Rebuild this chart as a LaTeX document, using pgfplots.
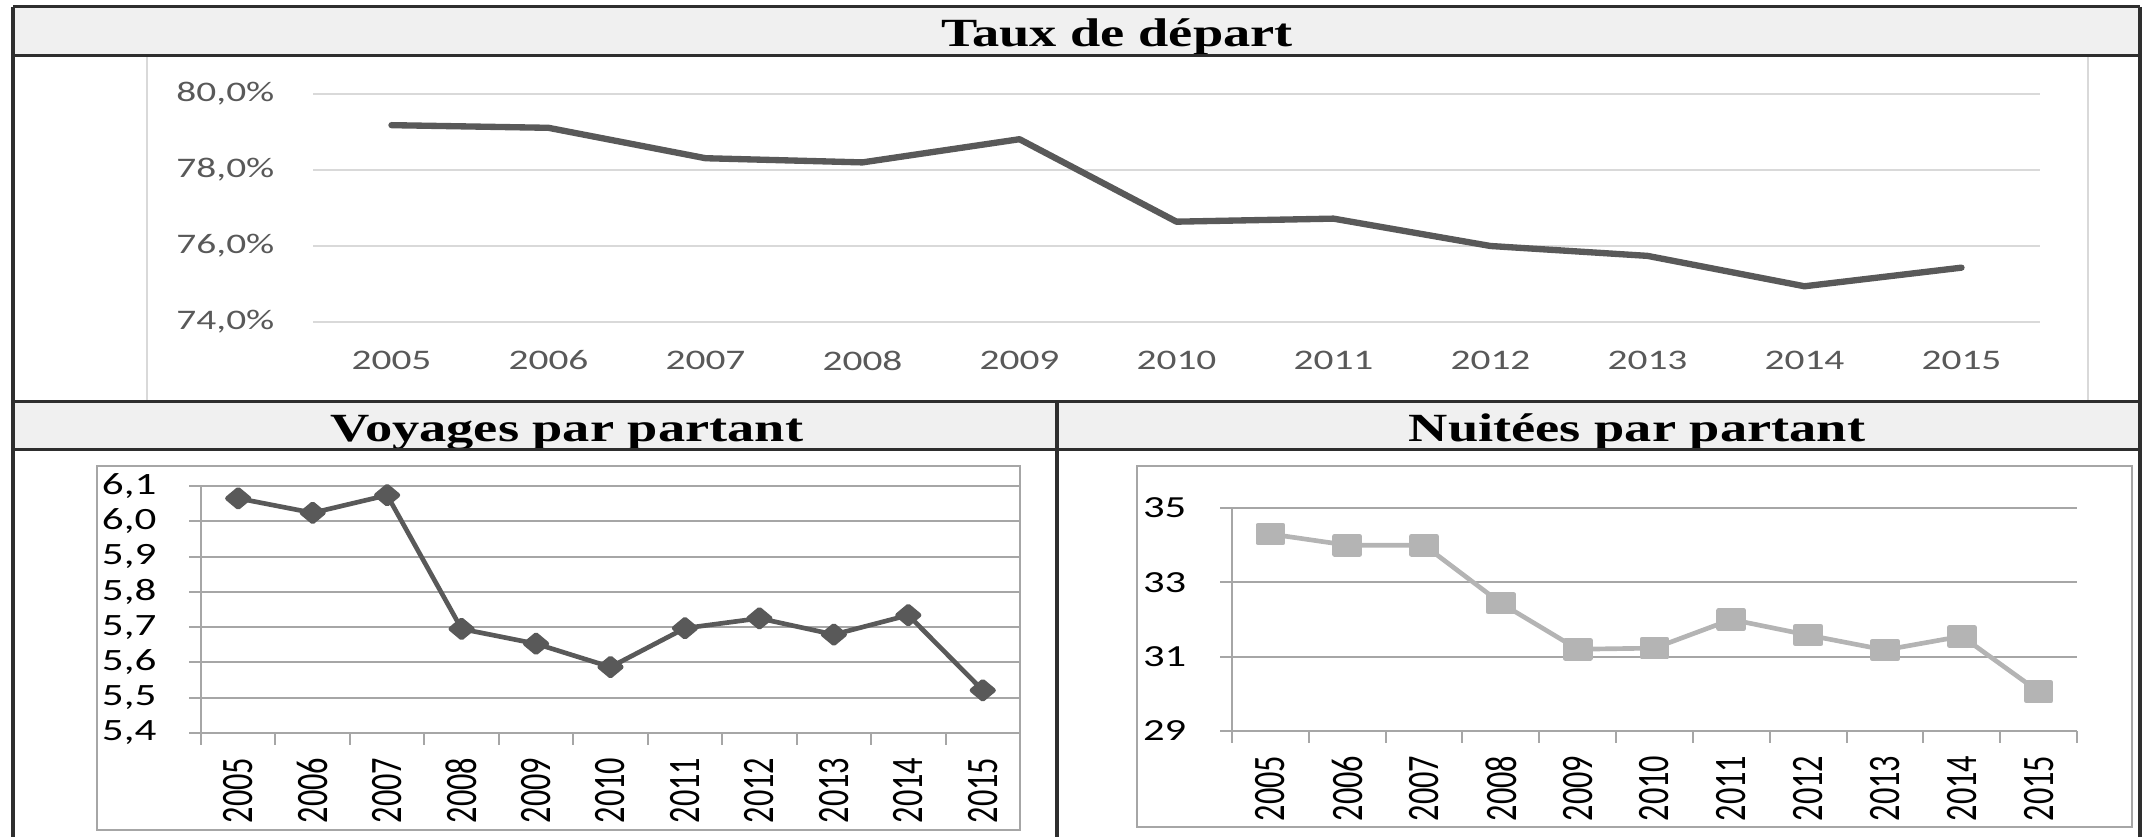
\documentclass[border=0pt]{standalone}
\usepackage{fontspec}
\usepackage{pgfplots}
\usepackage{pgfplotstable}
\usepackage{graphicx}
\pgfplotsset{compat=1.18}
\setmainfont{Liberation Serif}
\newfontfamily\ttl[FakeStretch=1.36]{Liberation Serif}
\newfontfamily\cst[FakeStretch=1.39]{Carlito}
\newfontfamily\cpl{Carlito}

\definecolor{dg}{HTML}{595959}
\definecolor{lg}{HTML}{B4B4B4}
\definecolor{gridA}{HTML}{D9D9D9}
\definecolor{gridB}{HTML}{A6A6A6}
\definecolor{band}{HTML}{F0F0F0}
\definecolor{frame}{HTML}{2E2E2E}

\newcommand{\rl}[1]{\scalebox{1.39}[1]{\rotatebox{90}{\fontsize{9.7}{10}\cpl #1}}}

\pgfplotstableread{
x y
0 79.18
1 79.11
2 78.31
3 78.20
4 78.81
5 76.64
6 76.72
7 76.00
8 75.74
9 74.94
10 75.43
}\taux

\pgfplotstableread{
x y
0 6.065
1 6.024
2 6.074
3 5.695
4 5.653
5 5.587
6 5.697
7 5.725
8 5.679
9 5.734
10 5.521
}\voyages

\pgfplotstableread{
x y
0 34.30
1 34.00
2 34.00
3 32.44
4 31.20
5 31.23
6 32.00
7 31.58
8 31.18
9 31.55
10 30.06
}\nuitees

\begin{document}
\begin{tikzpicture}
\useasboundingbox (0,0) rectangle (643.2pt,-251.1pt);
% title bands
\fill[band] (3.9pt,-2.1pt) rectangle (642pt,-16.8pt);
\fill[band] (3.9pt,-120.6pt) rectangle (642pt,-135pt);
% titles
\node[anchor=base, inner sep=0pt, font=\fontsize{12}{14}\ttl\bfseries] at (335.1pt,-14.1pt) {Taux de départ};
\node[anchor=base, inner sep=0pt, font=\fontsize{12}{14}\ttl\bfseries] at (170.1pt,-132.6pt) {Voyages par partant};
\node[anchor=base, inner sep=0pt, font=\fontsize{12}{14}\ttl\bfseries] at (491.1pt,-132.6pt) {Nuitées par partant};
% chart area borders
\draw[gridA, line width=0.7pt] (44.1pt,-16.8pt) -- (44.1pt,-120.6pt);
\draw[gridA, line width=0.7pt] (626.4pt,-16.8pt) -- (626.4pt,-120.6pt);
\draw[gridB, line width=0.8pt] (29.1pt,-139.8pt) rectangle (306pt,-249pt);
\draw[gridB, line width=0.8pt] (341.1pt,-139.8pt) rectangle (639.6pt,-248.1pt);

% top chart
\begin{axis}[
  at={(93.9pt,-96.6pt)}, anchor=south west,
  scale only axis, width=518.1pt, height=68.4pt,
  xmin=-0.5, xmax=10.5, ymin=74, ymax=80,
  axis line style={draw=none},
  ymajorgrids, grid style={gridA, line width=0.8pt},
  xtick={0,...,10},
  xticklabels={2005,2006,2007,2008,2009,2010,2011,2012,2013,2014,2015},
  ytick={74,76,78,80},
  yticklabels={{74,0\%},{76,0\%},{78,0\%},{80,0\%}},
  major tick length=0pt,
  tick style={draw=none},
  tick label style={font=\fontsize{8.5}{10}\cst, text=dg, inner sep=0pt},
  yticklabel style={anchor=east, xshift=-11.4pt},
  xticklabel style={anchor=north, yshift=-8.4pt},
  /pgf/number format/assume math mode=true,
]
\addplot[dg, line width=1.9pt, line join=round, line cap=round] table {\taux};
\end{axis}

% bottom left chart
\begin{axis}[
  at={(60.3pt,-219.9pt)}, anchor=south west,
  scale only axis, width=245.7pt, height=74.1pt,
  xmin=-0.5, xmax=10.5, ymin=5.4, ymax=6.1,
  axis x line*=bottom, axis y line*=left,
  axis line style={gridB, line width=0.7pt},
  ymajorgrids, grid style={gridB, line width=0.6pt},
  ytick={5.4,5.5,5.6,5.7,5.8,5.9,6.0,6.1},
  minor ytick={5.4,5.5,5.6,5.7,5.8,5.9,6.0,6.1},
  yticklabels={{5,4},{5,5},{5,6},{5,7},{5,8},{5,9},{6,0},{6,1}},
  xtick={0,...,10},
  xticklabels={\rl{2005},\rl{2006},\rl{2007},\rl{2008},\rl{2009},\rl{2010},\rl{2011},\rl{2012},\rl{2013},\rl{2014},\rl{2015}},
  minor xtick={-0.5,0.5,...,10.5},
  tick align=outside, major tick length=0pt, minor tick length=3.5pt,
  tick style={gridB, line width=0.6pt},
  tick label style={inner sep=0pt},
  yticklabel style={font=\fontsize{9.3}{10}\cst, text=black, anchor=east, xshift=-13.2pt},
  xticklabel style={anchor=north, yshift=-7.2pt},
  /pgf/number format/assume math mode=true,
]
\addplot[dg, line width=1.4pt, line join=round, mark=square*, mark size=1.9pt,
  mark options={xscale=1.2, rotate=45, solid, fill=dg}] table {\voyages};
\end{axis}

% bottom right chart
\begin{axis}[
  at={(369.6pt,-219.3pt)}, anchor=south west,
  scale only axis, width=253.5pt, height=66.9pt,
  xmin=-0.5, xmax=10.5, ymin=29, ymax=35,
  axis x line*=bottom, axis y line*=left,
  axis line style={gridB, line width=0.7pt},
  ymajorgrids, grid style={gridB, line width=0.6pt},
  ytick={29,31,33,35},
  minor ytick={29,31,33,35},
  yticklabels={29,31,33,35},
  xtick={0,...,10},
  xticklabels={\rl{2005},\rl{2006},\rl{2007},\rl{2008},\rl{2009},\rl{2010},\rl{2011},\rl{2012},\rl{2013},\rl{2014},\rl{2015}},
  minor xtick={-0.5,0.5,...,10.5},
  tick align=outside, major tick length=0pt, minor tick length=3.5pt,
  tick style={gridB, line width=0.6pt},
  tick label style={inner sep=0pt},
  yticklabel style={font=\fontsize{9.2}{10}\cst, text=black, anchor=east, xshift=-13.5pt},
  xticklabel style={anchor=north, yshift=-7.2pt},
  /pgf/number format/assume math mode=true,
]
\addplot[lg, line width=1.4pt, line join=round, mark=square*, mark size=2.7pt,
  mark options={xscale=1.39, solid, fill=lg}] table {\nuitees};
\end{axis}

% frame lines
\draw[frame, line width=0.9pt] (3.9pt,-2.1pt) -- (642pt,-2.1pt);
\draw[frame, line width=0.9pt] (3.9pt,-16.8pt) -- (642pt,-16.8pt);
\draw[frame, line width=0.9pt] (3.9pt,-120.6pt) -- (642pt,-120.6pt);
\draw[frame, line width=0.9pt] (3.9pt,-135pt) -- (642pt,-135pt);
\draw[frame, line width=1.1pt] (3.9pt,-2.1pt) -- (3.9pt,-251.1pt);
\draw[frame, line width=1.1pt] (642pt,-2.1pt) -- (642pt,-251.1pt);
\draw[frame, line width=1.1pt] (317.1pt,-120.6pt) -- (317.1pt,-251.1pt);
\end{tikzpicture}
\end{document}
